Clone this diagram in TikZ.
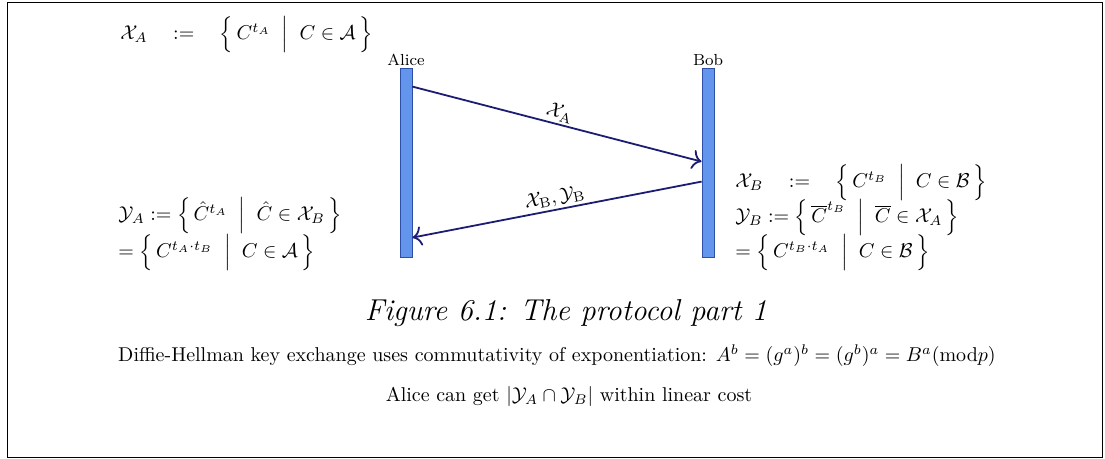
\documentclass[tikz,border=0pt]{standalone}
\usepackage{amsmath,amssymb}
\usetikzlibrary{arrows.meta,calc,positioning}
\definecolor{LaneFill}{HTML}{6495ED}
\definecolor{LaneEdge}{HTML}{2E4FA8}
\definecolor{MsgInk}{HTML}{1C1C73}

\begin{document}
\begin{tikzpicture}[x=0.5pt,y=-0.5pt,
    lane/.style={draw=LaneEdge, fill=LaneFill, minimum width=6pt,
      minimum height=94.5pt, inner sep=0pt},
    msg/.style={draw=MsgInk, line width=0.9pt, -{To[scale=1.3]}},
    msglabel/.style={midway, above, sloped, inner sep=1pt},
    eqline/.style={anchor=west, inner sep=0pt}]
  \useasboundingbox (0,0) rectangle (1105,459);
  \draw (7,2) rectangle (1102,457);

  % the two parties
  \node[lane] (alice) at (406,162.5) {};
  \node[lane] (bob) at (708,162.5) {};
  \node[above=0pt of alice, inner sep=1pt, font=\footnotesize] (alicename) {Alice};
  \node[above=0pt of bob, inner sep=1pt, font=\footnotesize] (bobname) {Bob};

  % messages
  \draw[msg] ($(alice.north east)+(0,19)$) -- ($(bob.north west)+(0,94)$)
    node[msglabel] {$\mathcal{X}_\mathrm{A}$};
  \draw[msg] ($(bob.north west)+(0,114)$) -- ($(alice.north east)+(0,170)$)
    node[msglabel] {$\mathcal{X}_\mathrm{B},\mathcal{Y}_\mathrm{B}$};

  % Alice side
  \node[eqline] (xa) at (120,35)
    {$\mathcal{X}_A \quad := \quad \Bigl\{\, C^{t_A} \;\Bigm|\; C \in \mathcal{A} \,\Bigr\}$};
  \node[eqline] (ya) at (118,216)
    {$\mathcal{Y}_A := \Bigl\{\, \hat{C}^{t_A} \;\Bigm|\; \hat{C} \in \mathcal{X}_B \,\Bigr\}$};
  \node[eqline] (yaeq) at (118,253)
    {$= \Bigl\{\, C^{t_A\cdot t_B} \;\Bigm|\; C \in \mathcal{A} \,\Bigr\}$};

  % Bob side
  \node[eqline] (xb) at (735,183)
    {$\mathcal{X}_B \quad := \quad \Bigl\{\, C^{t_B} \;\Bigm|\; C \in \mathcal{B} \,\Bigr\}$};
  \node[eqline] (yb) at (735,218)
    {$\mathcal{Y}_B := \Bigl\{\, \overline{C}^{t_B} \;\Bigm|\; \overline{C} \in \mathcal{X}_A \,\Bigr\}$};
  \node[eqline] (ybeq) at (735,253)
    {$= \Bigl\{\, C^{t_B\cdot t_A} \;\Bigm|\; C \in \mathcal{B} \,\Bigr\}$};

  % caption and notes
  \node[font=\fontsize{15.1pt}{18pt}\selectfont\itshape] (caption) at (566,313)
    {Figure 6.1: The protocol part 1};
  \node (dh) at (557,356)
    {Diffie-Hellman key exchange uses commutativity of exponentiation: $A^b=(g^a)^b=(g^b)^a=B^a(\mathrm{mod} p)$};
  \node (cost) at (569,397)
    {Alice can get $|\mathcal{Y}_A\cap\mathcal{Y}_B|$ within linear cost};
\end{tikzpicture}
\end{document}
